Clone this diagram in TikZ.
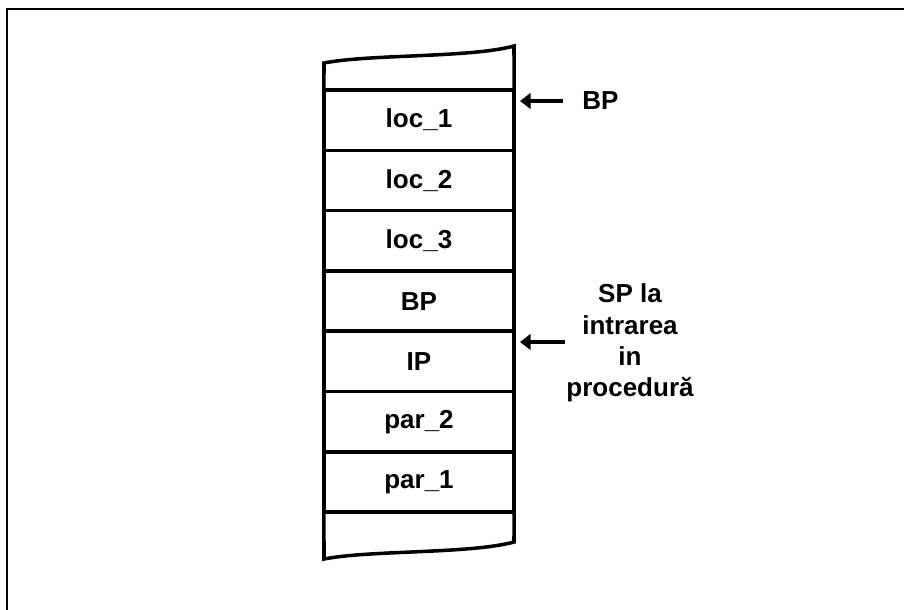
\documentclass[tikz,border=0pt]{standalone}
\usepackage{fontspec}
\setmainfont{Liberation Sans}
\usetikzlibrary{positioning,arrows.meta}

\begin{document}
\begin{tikzpicture}[x=0.025cm, y=-0.025cm, line width=2.5pt,
  cell/.style={draw, minimum width=4.75cm, minimum height=1.5075cm, inner sep=0pt, outer sep=0pt, font=\fontsize{18.5}{22}\selectfont\bfseries},
  lbl/.style={inner sep=0pt, align=center, font=\fontsize{18.5}{22.3}\selectfont\bfseries},
  arr/.style={-{Triangle[length=7.5pt,width=11pt]}, line width=3.4pt}]
\useasboundingbox (0,0) rectangle (904,610);
\draw[line width=0.8pt] (7,610)--(7,9)--(904,9);
% stack
\node[cell] (loc1) at (419,120.15) {loc\_1};
\node[cell, below=0pt of loc1] (loc2) {loc\_2};
\node[cell, below=0pt of loc2] (loc3) {loc\_3};
\node[cell, below=0pt of loc3] (bpold) {BP};
\node[cell, below=0pt of bpold] (ip) {IP};
\node[cell, below=0pt of ip] (par2) {par\_2};
\node[cell, below=0pt of par2] (par1) {par\_1};
\draw (loc1.north west)--(324,63) .. controls (370,54) and (470,58) .. (514,46)--(loc1.north east);
\draw (par1.south west)--(324,559) .. controls (370,550) and (470,554) .. (514,542)--(par1.south east);
% pointers
\node[lbl] (bp) at (600.5,101) {BP};
\coordinate (bptip) at (520,101);
\draw[arr, shorten <=0.45cm] (bp.west)--(bptip);
\node[lbl] (sp) at (630,343) {SP la\\intrarea\\in\\procedură};
\coordinate (sptip) at (520,342);
\draw[arr] (sp.west |- sptip)--(sptip);
\end{tikzpicture}
\end{document}
